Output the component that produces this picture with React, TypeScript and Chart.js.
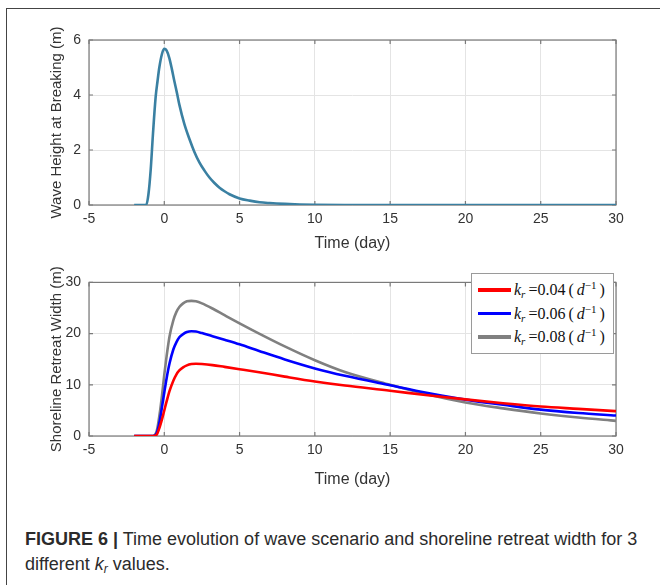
import React, { useEffect, useRef } from 'react';
import { Chart, registerables } from 'chart.js';

Chart.register(...registerables);

// ---- Data ----
const waveTime = [-2, -1.5, -1.2, -1.05, -0.9, -0.75, -0.57, -0.45, -0.33, -0.15, 0, 0.15, 0.33, 0.5, 0.67, 0.85, 1.0, 1.33, 1.67, 2.0, 2.33, 2.67, 3.0, 3.33, 3.67, 4.0, 4.33, 5, 5.67, 6.33, 7, 8, 9, 10, 12, 15, 20, 25, 30];
const waveHeight = [0, 0, 0, 0.4, 1.3, 2.6, 3.95, 4.5, 5.0, 5.5, 5.68, 5.62, 5.35, 4.95, 4.5, 4.05, 3.65, 2.95, 2.4, 1.93, 1.55, 1.25, 1.0, 0.8, 0.63, 0.5, 0.39, 0.24, 0.16, 0.1, 0.07, 0.04, 0.02, 0.01, 0, 0, 0, 0, 0];

const retreatTime = [-2, -1.5, -1.0, -0.75, -0.5, -0.3, -0.15, 0, 0.15, 0.35, 0.6, 0.8, 1.0, 1.25, 1.5, 1.8, 2.1, 2.5, 3.2, 4, 5, 6.3, 8, 10, 12, 15, 17.5, 20, 22.5, 25, 27.5, 30];
const retreatK004 = [0, 0, 0, 0, 0.3, 1.8, 3.3, 5.0, 6.7, 8.8, 10.8, 12.0, 12.8, 13.4, 13.8, 14.05, 14.1, 14.05, 13.85, 13.5, 13.05, 12.45, 11.6, 10.65, 9.85, 8.85, 7.95, 7.15, 6.4, 5.75, 5.3, 4.85];
const retreatK006 = [0, 0, 0, 0, 0.6, 3.0, 5.7, 8.5, 11.2, 14.2, 16.9, 18.3, 19.3, 19.9, 20.3, 20.45, 20.4, 20.1, 19.5, 18.8, 17.9, 16.6, 14.95, 13.2, 11.75, 9.9, 8.4, 7.1, 6.1, 5.15, 4.5, 4.0];
const retreatK008 = [0, 0, 0, 0, 1.0, 4.5, 8.0, 12.0, 15.5, 19.5, 22.6, 24.2, 25.2, 25.9, 26.3, 26.4, 26.3, 25.9, 24.9, 23.6, 22.0, 20.0, 17.5, 14.8, 12.5, 10.0, 8.1, 6.55, 5.4, 4.4, 3.6, 2.95];

const krValues = ['0.04', '0.06', '0.08'];
const seriesColors = ['#ff0000', '#0000ff', '#808080'];
const waveColor = '#3a80a2';

const xMin = -5, xMax = 30, xStep = 5;
const waveYMax = 6, waveYStep = 2;
const retreatYMax = 30, retreatYStep = 10;

const xTitle = 'Time (day)';
const waveYTitle = 'Wave Height at Breaking (m)';
const retreatYTitle = 'Shoreline Retreat Width (m)';

const toPoints = (xs: number[], ys: number[]) => xs.map((x, i) => ({ x, y: ys[i] }));

const FONT = '"Liberation Sans", Arial, sans-serif';

const boxPlugin = {
  id: 'matlabBox',
  beforeDatasetsDraw(chart: any) {
    const { ctx, chartArea: a, scales } = chart;
    ctx.save();
    ctx.strokeStyle = '#7a7a7a';
    ctx.lineWidth = 1.2;
    ctx.strokeRect(a.left, a.top, a.right - a.left, a.bottom - a.top);
    const tl = 4;
    ctx.beginPath();
    scales.x.ticks.forEach((t: any) => {
      const px = scales.x.getPixelForValue(t.value);
      ctx.moveTo(px, a.bottom); ctx.lineTo(px, a.bottom - tl);
      ctx.moveTo(px, a.top); ctx.lineTo(px, a.top + tl);
    });
    scales.y.ticks.forEach((t: any) => {
      const py = scales.y.getPixelForValue(t.value);
      ctx.moveTo(a.left, py); ctx.lineTo(a.left + tl, py);
      ctx.moveTo(a.right, py); ctx.lineTo(a.right - tl, py);
    });
    ctx.stroke();
    ctx.restore();
  },
};

function makeOptions(yMax: number, yStep: number, yTitle: string, padTop: number, xHeight: number, xTitlePadBottom: number) {
  return {
    responsive: false,
    animation: false as const,
    layout: { padding: { top: padTop, right: 14, left: 0, bottom: 0 } },
    plugins: { legend: { display: false }, tooltip: { enabled: false } },
    elements: { point: { radius: 0 } },
    scales: {
      x: {
        type: 'linear' as const,
        min: xMin,
        max: xMax,
        afterFit: (s: any) => { s.height = xHeight; },
        border: { display: false },
        grid: { color: '#e4e4e4', lineWidth: 1, drawTicks: false },
        ticks: { stepSize: xStep, padding: 6, color: '#333', font: { family: FONT, size: 14 }, minRotation: 0, maxRotation: 0 },
        title: { display: true, text: xTitle, color: '#333', font: { family: FONT, size: 16 }, padding: { top: 0, bottom: xTitlePadBottom } },
      },
      y: {
        type: 'linear' as const,
        min: 0,
        max: yMax,
        afterFit: (s: any) => { s.width = 49; },
        border: { display: false },
        grid: { color: '#e4e4e4', lineWidth: 1, drawTicks: false },
        ticks: { stepSize: yStep, padding: 8, color: '#333', font: { family: FONT, size: 14 }, minRotation: 0, maxRotation: 0 },
        title: { display: true, text: yTitle, color: '#333', font: { family: FONT, size: 15 }, padding: { top: 8, bottom: 0 } },
      },
    },
  };
}

function ChartCanvas({ config, width, height, style }: any) {
  const ref = useRef<HTMLCanvasElement | null>(null);
  useEffect(() => {
    if (!ref.current) return;
    const chart = new Chart(ref.current, config);
    return () => chart.destroy();
  }, []);
  return <canvas ref={ref} width={width} height={height} style={{ position: 'absolute', display: 'block', ...style }} />;
}

const waveConfig: any = {
  type: 'line',
  data: {
    datasets: [
      {
        label: 'Wave height',
        data: toPoints(waveTime, waveHeight),
        borderColor: waveColor,
        borderWidth: 2.6,
        cubicInterpolationMode: 'monotone',
        fill: false,
      },
    ],
  },
  options: makeOptions(waveYMax, waveYStep, waveYTitle, 20, 60, 12),
  plugins: [boxPlugin],
};

const retreatSeries = [retreatK004, retreatK006, retreatK008];

const retreatConfig: any = {
  type: 'line',
  data: {
    datasets: retreatSeries.map((ys, i) => ({
      label: `k_r = ${krValues[i]} (d^-1)`,
      data: toPoints(retreatTime, ys),
      borderColor: seriesColors[i],
      borderWidth: 2.6,
      cubicInterpolationMode: 'monotone',
      fill: false,
    })),
  },
  options: makeOptions(retreatYMax, retreatYStep, retreatYTitle, 5, 64, 11),
  plugins: [boxPlugin],
};

function Legend() {
  return (
    <div
      style={{
        position: 'absolute',
        left: 471,
        top: 273,
        width: 141,
        height: 75,
        border: '1px solid #9a9a9a',
        background: '#fff',
        paddingTop: 4,
        boxSizing: 'content-box',
        fontFamily: '"Liberation Serif", "Times New Roman", serif',
        fontSize: 16,
        color: '#111',
      }}
    >
      {krValues.map((v, i) => (
        <div key={v} style={{ position: 'relative', height: 23.5, lineHeight: '23.5px', whiteSpace: 'nowrap' }}>
          <div style={{ position: 'absolute', left: 6, top: 10, width: 33, height: 3.5, background: seriesColors[i] }} />
          <div style={{ position: 'absolute', left: 42, top: 0 }}>
            <i>k</i>
            <sub style={{ fontStyle: 'italic', fontSize: 11, verticalAlign: '-3px', lineHeight: 0 }}>r</sub>
            <span style={{ marginLeft: 3 }}>={v}</span>
            <span style={{ marginLeft: 3 }}>(</span>
            <i style={{ marginLeft: 3 }}>d</i>
            <sup style={{ fontSize: 11, verticalAlign: '6px', lineHeight: 0 }}>−1</sup>
            <span style={{ marginLeft: 3 }}>)</span>
          </div>
        </div>
      ))}
    </div>
  );
}

export default function App() {
  return (
    <div style={{ position: 'absolute', left: 0, top: 0, width: 660, height: 585, overflow: 'hidden', background: '#fff' }}>
      <div style={{ position: 'absolute', left: 6, top: 8, width: 1000, height: 1000, border: '1.5px solid #444', boxSizing: 'border-box' }} />
      <ChartCanvas config={waveConfig} width={590} height={245} style={{ left: 40, top: 20 }} />
      <ChartCanvas config={retreatConfig} width={590} height={234} style={{ left: 40, top: 266 }} />
      <Legend />
      <div
        style={{
          position: 'absolute',
          left: 25,
          top: 527,
          fontFamily: FONT,
          fontSize: 18,
          lineHeight: '24.5px',
          color: '#2b2b2b',
          whiteSpace: 'nowrap',
        }}
      >
        <b>FIGURE 6 |</b> Time evolution of wave scenario and shoreline retreat width for 3
        <br />
        different <i>k</i>
        <sub style={{ fontStyle: 'italic', fontSize: 12, verticalAlign: '-3px', lineHeight: 0 }}>r</sub> values.
      </div>
    </div>
  );
}
